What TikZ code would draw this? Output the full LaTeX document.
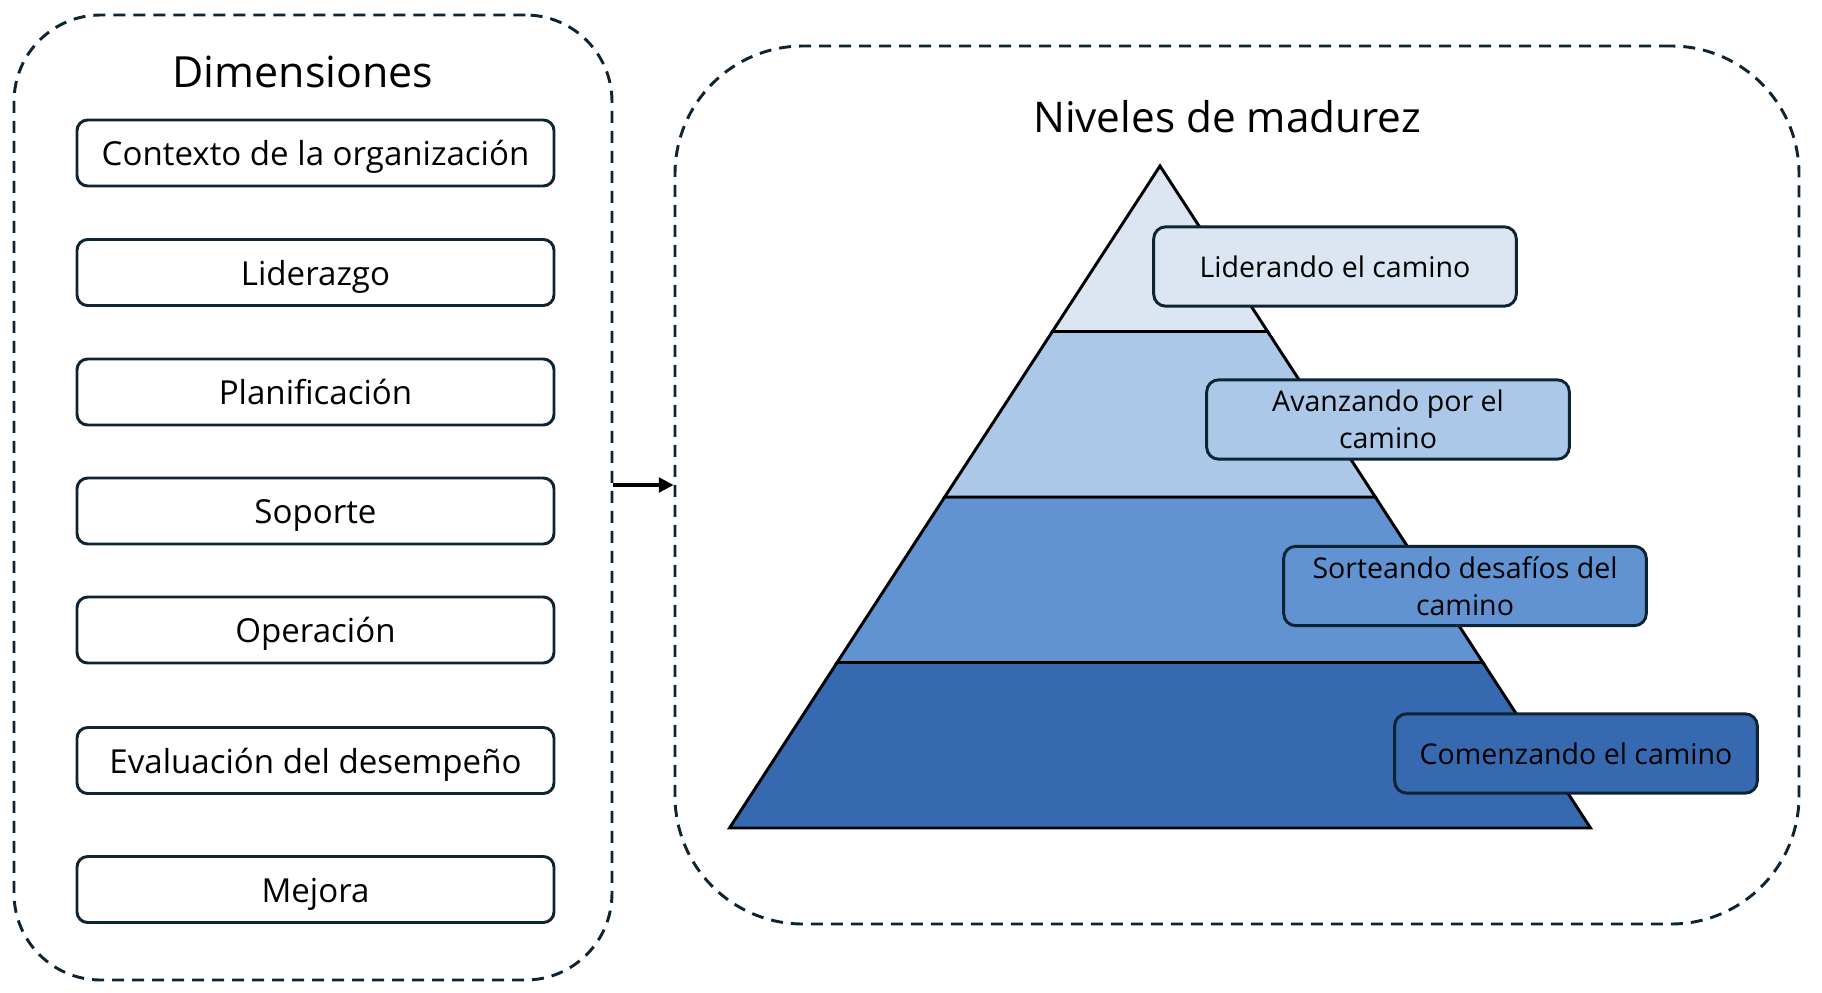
\documentclass[tikz,border=0pt]{standalone}
\usepackage{fontspec}
\setmainfont{Open Sans}
\usetikzlibrary{arrows.meta}
\definecolor{navy}{HTML}{0E2433}
\definecolor{lvA}{HTML}{DCE6F2}
\definecolor{lvB}{HTML}{ACC8E8}
\definecolor{lvC}{HTML}{6193D3}
\definecolor{lvD}{HTML}{3769B1}
\begin{document}
\begin{tikzpicture}[x=0.75pt,y=-0.75pt,
  container/.style={draw=navy, line width=2.2pt, dash pattern=on 9pt off 6pt, rounded corners=#1, inner sep=0},
  dimbox/.style={draw=navy, line width=2.2pt, rounded corners=8pt, minimum width=357.75pt, minimum height=49.5pt, inner sep=0, text height=24pt, text depth=5pt, font=\fontsize{24.8}{29}\selectfont},
  lvbox/.style={draw=navy, line width=2.2pt, rounded corners=9pt, minimum width=272pt, minimum height=59.5pt, inner sep=0, align=center, font=\fontsize{21.4}{27.8}\selectfont},
  title/.style={inner sep=0},
  layer/.style={draw=black, line width=2.2pt, line join=miter}
]
\useasboundingbox (0,0) rectangle (1822,992);
% containers
\node[container=65pt, minimum width=448.5pt, minimum height=723.75pt] (left) at (313,497.5) {};
\node[container=96pt, minimum width=843pt, minimum height=658.5pt] (right) at (1237,485) {};
\draw[line width=2.4pt, -{Triangle[length=11pt,width=11pt]}] (left.east |- right.west) -- (right.west);
% titles
\node[title, font=\fontsize{32.2}{36}\selectfont] (t1) at (303,72) {Dimensiones};
\node[title, font=\fontsize{31.7}{36}\selectfont] (t2) at (1227,117) {Niveles de madurez};
% dimension boxes
\node[dimbox] (d1) at (315.5,153) {Contexto de la organización};
\node[dimbox] (d2) at (315.5,272.5) {Liderazgo};
\node[dimbox] (d3) at (315.5,392) {Planificación};
\node[dimbox] (d4) at (315.5,511) {Soporte};
\node[dimbox] (d5) at (315.5,630) {Operación};
\node[dimbox] (d6) at (315.5,760.5) {Evaluación del desempeño};
\node[dimbox] (d7) at (315.5,889.5) {Mejora};
% pyramid
\draw[layer, fill=lvD] (729.5,828) -- (1590.5,828) -- (1482.9,662.5) -- (837.1,662.5) -- cycle;
\draw[layer, fill=lvC] (837.1,662.5) -- (1482.9,662.5) -- (1375.3,497) -- (944.7,497) -- cycle;
\draw[layer, fill=lvB] (944.7,497) -- (1375.3,497) -- (1267.6,331.5) -- (1052.4,331.5) -- cycle;
\draw[layer, fill=lvA] (1052.4,331.5) -- (1267.6,331.5) -- (1160,166) -- cycle;
% level labels
\node[lvbox, fill=lvA] (l1) at (1335,266.5) {Liderando el camino};
\node[lvbox, fill=lvB] (l2) at (1388,419.5) {Avanzando por el\\camino};
\node[lvbox, fill=lvC] (l3) at (1465,586) {Sorteando desafíos del\\camino};
\node[lvbox, fill=lvD] (l4) at (1576,753.5) {Comenzando el camino};
\end{tikzpicture}
\end{document}
